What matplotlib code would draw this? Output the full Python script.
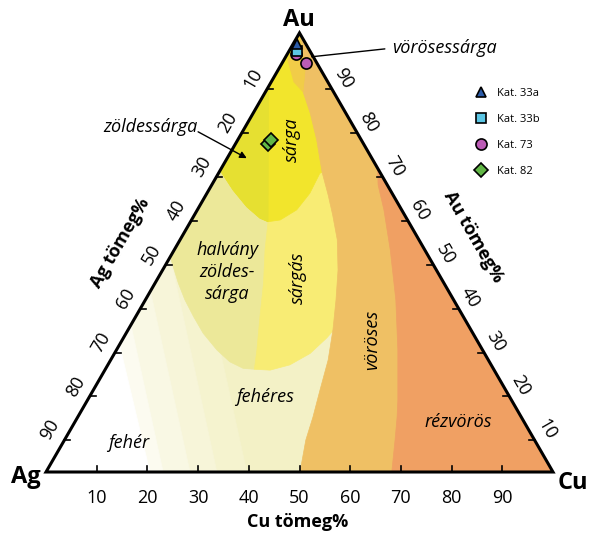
import numpy as np
import matplotlib
matplotlib.use('Agg')
import matplotlib.pyplot as plt
from matplotlib.patches import Polygon
from matplotlib.lines import Line2D

plt.rcParams['font.family'] = ['Open Sans', 'DejaVu Sans']

# colour field boundaries as (Cu %, Au %) pairs, Ag is the rest
rez_edge = [(68.2, 0), (65.2, 7.3), (63.0, 12.5), (61.2, 16.4), (55.5, 27.8),
            (49.4, 39.2), (42.6, 50.6), (36.8, 59.7), (32.8, 65.4), (30.8, 69.2)]
voros_edge = [(50.1, 0), (47.6, 7.3), (46.4, 12.5), (44.7, 18.7), (42.9, 25.5),
              (40.4, 32.4), (37.6, 39.2), (34.6, 46.0), (31.0, 52.9), (27.3, 58.5),
              (24.1, 63.1), (20.3, 68.3), (15.6, 75.6), (11.2, 81.8), (7.4, 86.6),
              (5.3, 91.6), (0, 100)]
vs_corner = [(0, 100), (0.8, 93.8), (4.5, 88.8), (7.4, 86.6), (5.3, 91.6)]
sarga_bottom = [(0, 68.7), (4.8, 64.2), (9.4, 60.4), (13.3, 57.8), (15.3, 57.0),
                (17.5, 57.4), (19.6, 59.7), (20.3, 63.5), (20.0, 68.0), (20.3, 68.3)]
zoldes_split = [(15.3, 57.0), (6.35, 75.0), (0, 87.8)]
sargas_left = [(15.3, 57.0), (17.9, 50.6), (21.4, 43.0), (24.5, 35.4),
               (27.7, 27.8), (29.4, 23.4)]
sargas_bottom = [(29.4, 23.4), (32.6, 23.2), (35.9, 24.4), (38.6, 27.0),
                 (40.1, 30.5), (40.8, 33.1)]
halvany_bottom = [(0, 49.0), (4.6, 43.0), (7.8, 39.2), (11.4, 35.4), (15.2, 31.6),
                  (19.8, 27.8), (23.7, 25.1), (27.1, 23.6), (29.4, 23.4)]

# white -> pale bands near the Ag corner: Cu % on the base, Au % on the Ag-Au side
band_cu = [39.6, 33.7, 28.4, 23.1, 20.5]
band_au = [57.4, 49.0, 41.2, 33.5, 29.0]
band_colors = ['#F5F3CF', '#F7F5D9', '#F9F8E4', '#FCFBF0', '#FFFFFF']

# measured alloys (Cu %, Au %)
samples = {
    'Kat. 82': ([6.4, 6.7], [74.6, 75.5]),
    'Kat. 73': ([1.7, 4.8], [95.2, 93.1]),
    'Kat. 33b': ([1.6], [95.8]),
    'Kat. 33a': ([0.8], [97.5]),
}
styles = {
    'Kat. 33a': dict(marker='^', ms=7.5, mfc='#2B5BA8'),
    'Kat. 33b': dict(marker='s', ms=6.5, mfc='#5CC6E4'),
    'Kat. 73': dict(marker='o', ms=8, mfc='#BC5CB6'),
    'Kat. 82': dict(marker='D', ms=7, mfc='#62B746'),
}
ticks = [10, 20, 30, 40, 50, 60, 70, 80, 90]


def tern(cu, au):
    cu = np.asarray(cu, float) / 100
    au = np.asarray(au, float) / 100
    return cu + au / 2, au * np.sqrt(3) / 2


def field(ax, pts, color, z):
    cu, au = zip(*pts)
    x, y = tern(cu, au)
    ax.add_patch(Polygon(np.column_stack([x, y]), closed=True, facecolor=color,
                         edgecolor=color, lw=0.5, zorder=z))


fig = plt.figure(figsize=(5.9, 5.36), dpi=100)
ax = fig.add_axes([0, 0, 1, 1])
ax.set_xlim(-46 / 507, 544 / 507)
ax.set_ylim(-64 / 507, 472 / 507)
ax.axis('off')

corners = [(0, 0), (100, 0), (0, 100)]
field(ax, corners, '#F3F1C6', 1)
for c, a, col in zip(band_cu, band_au, band_colors):
    field(ax, [(0, 0), (c, 0), (0, a)], col, 2)

field(ax, [(0, 68.7)] + halvany_bottom + sargas_left[::-1] + sarga_bottom[:5][::-1],
      '#ECE899', 3)
field(ax, sargas_left + sargas_bottom + [(50, 40), (28, 72)] + sarga_bottom[4:][::-1],
      '#F8EC74', 4)
field(ax, [(0, 100)] + sarga_bottom + [(31.7, 68.3)], '#F2E52C', 5)
field(ax, [(0, 87.8)] + sarga_bottom[:5] + zoldes_split[1:], '#E6E031', 6)
field(ax, voros_edge + [(100, 0)], '#EFC064', 7)
field(ax, vs_corner, '#F1CC48', 8)
field(ax, rez_edge + [(100, 0)], '#F0A063', 9)

# triangle frame
fx, fy = tern([0, 100, 0], [0, 0, 100])
ax.add_patch(Polygon(np.column_stack([fx, fy]), closed=True, fill=False,
                     edgecolor='black', lw=2.2, joinstyle='miter', zorder=20))

# ticks and tick labels
tl = 0.012
fs_tick = 13
for t in ticks:
    x, y = tern(t, 0)
    ax.plot([x, x], [y, y + tl], color='black', lw=1.2, zorder=21)
    ax.text(x, y - 0.052, str(t), ha='center', va='center', fontsize=fs_tick)
    # Ag % on the left side
    x, y = tern(0, 100 - t - 2.8)
    ax.plot([x, x + tl], [y, y], color='black', lw=1.2, zorder=21)
    x, y = tern(0, 100 - t)
    ax.text(x - 0.042, y - 0.004, str(t), ha='center', va='center',
            fontsize=fs_tick, rotation=60)
    # Au % on the right side
    x, y = tern(100 - t + 2.8, t - 2.8)
    ax.plot([x, x - tl], [y, y], color='black', lw=1.2, zorder=21)
    x, y = tern(100 - t, t)
    ax.text(x + 0.037, y - 0.003, str(t), ha='center', va='center',
            fontsize=fs_tick, rotation=-60)

ax.text(0.498, 0.892, 'Au', ha='center', va='center', fontsize=17, fontweight='bold')
ax.text(-0.039, -0.010, 'Ag', ha='center', va='center', fontsize=17, fontweight='bold')
ax.text(1.039, -0.022, 'Cu', ha='center', va='center', fontsize=17, fontweight='bold')
ax.text(0.497, -0.099, 'Cu tömeg%', ha='center', va='center', fontsize=13,
        fontweight='bold')
ax.text(0.146, 0.452, 'Ag tömeg%', ha='center', va='center', fontsize=13,
        fontweight='bold', rotation=60)
ax.text(0.842, 0.4635, 'Au tömeg%', ha='center', va='center', fontsize=13,
        fontweight='bold', rotation=-60)

# colour names
lab = dict(ha='center', va='center', fontsize=13, fontstyle='italic', zorder=15)
for txt, cu, au, rot in [('sárga', 10.7, 75.6, 90), ('sárgás', 27.6, 44.2, 90),
                         ('vöröses', 49.2, 30.1, 90), ('fehéres', 34.7, 17.1, 0),
                         ('fehér', 12.9, 6.6, 0), ('rézvörös', 75.6, 11.4, 0)]:
    x, y = tern(cu, au)
    ax.text(x, y, txt, rotation=rot, **lab)
x, y = tern(12.9, 45.6)
ax.text(x, y, 'halvány\nzöldes-\nsárga', linespacing=1.3, **lab)

ax.text(0.205, 0.680, 'zöldessárga', **lab)
ax.annotate('', xy=(0.396, 0.619), xytext=(0.300, 0.671), zorder=16,
            arrowprops=dict(arrowstyle='-|>', color='black', lw=1,
                            mutation_scale=10, shrinkA=0, shrinkB=0))
ax.annotate('vörösessárga', xy=(0.524, 0.819), xytext=(0.682, 0.836),
            ha='left', va='center', fontsize=13, fontstyle='italic', zorder=16,
            arrowprops=dict(arrowstyle='-', color='black', lw=1, shrinkA=3,
                            shrinkB=0, relpos=(0, 0.5)))

# sample points
for name, (cu, au) in samples.items():
    x, y = tern(cu, au)
    ax.plot(x, y, ls='none', mec='black', mew=1.2, zorder=25, **styles[name])

handles = [Line2D([], [], ls='none', mec='black', mew=1.2, **styles[n])
           for n in ['Kat. 33a', 'Kat. 33b', 'Kat. 73', 'Kat. 82']]
fig.legend(handles, ['Kat. 33a', 'Kat. 33b', 'Kat. 73', 'Kat. 82'],
           loc='upper left', bbox_to_anchor=(474 / 590, 1 - 88 / 536),
           frameon=False, fontsize=8, handlelength=1.2, handletextpad=0.85,
           labelspacing=1.35, borderpad=0, borderaxespad=0)

fig.savefig('out.png', dpi=100)
